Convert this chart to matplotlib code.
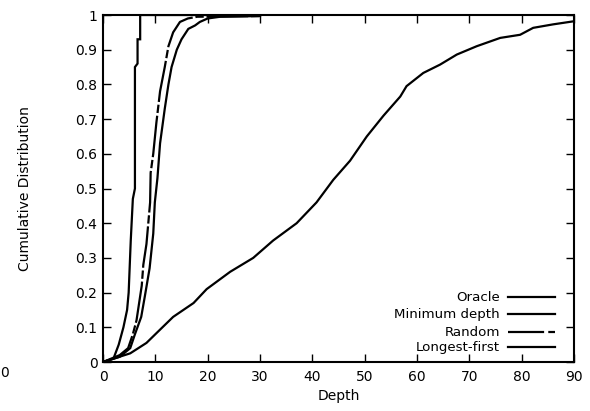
import matplotlib
matplotlib.use("Agg")
import matplotlib.pyplot as plt

plt.rcParams['font.family'] = ['DejaVu Sans']
plt.rcParams['lines.scale_dashes'] = False

# ---- data ----
oracle_x = [0, 2, 3, 3.9, 4.6, 4.9, 5.3, 5.7, 6.1, 6.1, 6.6, 6.6, 7.1, 7.1, 30]
oracle_y = [0, 0.01, 0.05, 0.10, 0.15, 0.20, 0.35, 0.47, 0.50, 0.85, 0.86, 0.93, 0.93, 1.0, 1.0]

mindepth_x = [0, 3.2, 5.2, 6.1, 7.3, 8.0, 8.9, 9.6, 9.9, 10.4, 10.9, 11.8, 12.5, 13.1,
              14.1, 15.0, 16.3, 17.6, 18.5, 20.0, 22.4, 30]
mindepth_y = [0, 0.015, 0.04, 0.08, 0.13, 0.19, 0.27, 0.37, 0.46, 0.53, 0.63, 0.73, 0.80, 0.85,
              0.90, 0.93, 0.96, 0.97, 0.98, 0.99, 0.995, 0.997]

random_x = [0, 3.2, 4.8, 5.7, 6.4, 6.7, 7.4, 7.7, 8.3, 9.0, 9.1, 9.6, 10.2, 10.9, 11.8,
            12.5, 13.4, 14.7, 16.2, 18.0, 30]
random_y = [0, 0.02, 0.04, 0.08, 0.12, 0.15, 0.22, 0.28, 0.34, 0.46, 0.545, 0.60, 0.69, 0.78, 0.85,
            0.91, 0.95, 0.98, 0.99, 0.995, 0.997]

longest_x = [0, 5.2, 8.3, 10.2, 13.4, 17.3, 19.8, 24.3, 28.7, 32.5, 37.0, 40.8, 44.0, 47.2,
             50.4, 53.6, 56.8, 58.0, 61.2, 64.4, 67.6, 71.4, 75.9, 79.7, 82.2, 86.0, 90.0]
longest_y = [0, 0.025, 0.055, 0.083, 0.13, 0.17, 0.21, 0.26, 0.30, 0.35, 0.40, 0.46, 0.525, 0.58,
             0.65, 0.71, 0.765, 0.795, 0.833, 0.857, 0.886, 0.91, 0.934, 0.943, 0.963, 0.973, 0.982]

labels = ['Oracle', 'Minimum depth', 'Random', 'Longest-first']
x_ticks = [0, 10, 20, 30, 40, 50, 60, 70, 80, 90]
y_ticks = [0, 0.1, 0.2, 0.3, 0.4, 0.5, 0.6, 0.7, 0.8, 0.9, 1]
y_ticklabels = ['0', '0.1', '0.2', '0.3', '0.4', '0.5', '0.6', '0.7', '0.8', '0.9', '1']

# ---- figure ----
fig = plt.figure(figsize=(5.9, 4.11), dpi=100)
ax = fig.add_axes([0.1746, 0.1192, 0.7983, 0.8443])

lw = 1.6
dash = (30, 2, 6, 2)
series = [
    (oracle_x, oracle_y, None),
    (mindepth_x, mindepth_y, None),
    (random_x, random_y, dash),
    (longest_x, longest_y, None),
]
for xs, ys, d in series:
    ln, = ax.plot(xs, ys, color='black', lw=lw, solid_joinstyle='miter')
    if d is not None:
        ln.set_dashes(d)

ax.set_xlim(0, 90)
ax.set_ylim(0, 1)
ax.set_xticks(x_ticks)
ax.set_yticks(y_ticks)
ax.set_yticklabels(y_ticklabels)
ax.tick_params(direction='in', length=6, width=1.0, top=True, right=True,
               labelsize=10, colors='black')
ax.tick_params(axis='y', pad=4)
ax.tick_params(axis='x', pad=6)
for s in ax.spines.values():
    s.set_linewidth(1.5)

ax.set_xlabel('Depth', fontsize=10)
ax.set_ylabel('Cumulative Distribution', fontsize=10)
ax.xaxis.set_label_coords(0.50, -0.078)
ax.yaxis.set_label_coords(-0.150, 0.50)

# legend drawn in gnuplot style: right-aligned text, sample on the right
rows = [0.187, 0.138, 0.086, 0.043]
for lab, yy, (_, _, d) in zip(labels, rows, series):
    ax.text(0.843, yy, lab, transform=ax.transAxes, ha='right', va='center', fontsize=9.6)
    ln, = ax.plot([0.860, 0.960], [yy, yy], transform=ax.transAxes, color='black',
                  lw=lw, clip_on=False)
    if d is not None:
        ln.set_dashes((26, 3, 5, 10))

# fragment of neighbouring panel at far left
fig.text(0.5 / 590, 1 - 373 / 411, '0', ha='left', va='center', fontsize=10)

fig.savefig('out.png', dpi=100)
